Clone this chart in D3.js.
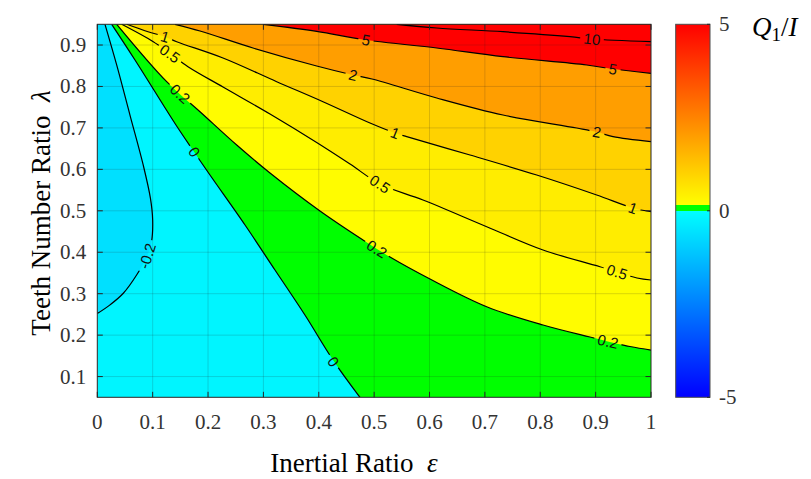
<!DOCTYPE html>
<html><head><meta charset="utf-8">
<script src="https://cdn.jsdelivr.net/npm/d3@7/dist/d3.min.js"></script>
<style>body{margin:0;background:#fff}svg{display:block}</style>
</head><body>
<svg id="chart" width="811" height="479"></svg>
<script>
// ---------- data ----------
const xTicks = [0,0.1,0.2,0.3,0.4,0.5,0.6,0.7,0.8,0.9,1];
const xTickLabels = ["0","0.1","0.2","0.3","0.4","0.5","0.6","0.7","0.8","0.9","1"];
const yTicks = [0.1,0.2,0.3,0.4,0.5,0.6,0.7,0.8,0.9];
const yTickLabels = ["0.1","0.2","0.3","0.4","0.5","0.6","0.7","0.8","0.9"];
const cbTicks = [-5,0,5];
const cbTickLabels = ["-5","0","5"];
const levels = [-0.2, 0, 0.2, 0.5, 1, 2, 5, 10];
const minValue = -0.6;
// colormap breakpoints (value -> colour)
const cmapValues = [-5, -1e-9, 0, 0.15, 0.15 + 1e-9, 5];
const cmapColors = ["#0000ff", "#00ffff", "#00ff00", "#00ff00", "#ffff00", "#ff0000"];

// contour lines [epsilon, lambda]
const contourM02 = [[0.0139,0.95],[0.035,0.852],[0.059,0.731],[0.083,0.61],[0.096,0.53],[0.1,0.478],[0.098,0.426],[0.09,0.391],[0.071,0.345],[0.047,0.301],[0.023,0.273],[0,0.252]];
const contour0 = [[0.026,0.95],[0.0681,0.8639],[0.1421,0.707],[0.175,0.6418],[0.2035,0.5863],[0.2668,0.4657],[0.3209,0.3571],[0.375,0.2485],[0.4257,0.1399],[0.4744,0.05]];
const contour02 = [[0.035,0.95],[0.1253,0.8115],[0.1855,0.7391],[0.2518,0.6587],[0.3119,0.5912],[0.4022,0.4995],[0.4799,0.4295],[0.5286,0.3885],[0.6009,0.3354],[0.7033,0.2685],[0.805,0.2244],[0.8898,0.1954],[0.962,0.1725],[1,0.164]];
const contour05 = [[0.0441,0.95],[0.1011,0.908],[0.1313,0.8795],[0.1638,0.8477],[0.227,0.7987],[0.3119,0.7335],[0.3962,0.6648],[0.4564,0.6129],[0.5106,0.5646],[0.5882,0.526],[0.7033,0.4616],[0.805,0.4054],[0.9079,0.365],[0.9747,0.3378],[1,0.333]];
const contour1 = [[0.0531,0.95],[0.0916,0.9321],[0.1223,0.9201],[0.1434,0.908],[0.227,0.8687],[0.324,0.8115],[0.4076,0.7632],[0.4925,0.7118],[0.5377,0.6877],[0.5588,0.6788],[0.6731,0.6346],[0.7936,0.5863],[0.9019,0.5381],[0.9675,0.5067],[1,0.4978]];
const contour2 = [[0.1403,0.95],[0.1855,0.9338],[0.2812,0.8928],[0.3962,0.8494],[0.4618,0.8277],[0.4961,0.818],[0.613,0.7722],[0.7327,0.7311],[0.8658,0.6998],[0.9025,0.6901],[0.9314,0.6788],[1,0.6667]];
const contour5 = [[0.2993,0.95],[0.3962,0.9331],[0.4853,0.9121],[0.613,0.8928],[0.7327,0.8718],[0.8839,0.8518],[0.9314,0.8421],[1,0.8318]];
const contour10 = [[0.5407,0.95],[0.613,0.9411],[0.7327,0.9321],[0.8537,0.9201],[0.8934,0.9145],[1,0.908]];

// inline contour labels [epsilon, lambda, level]
const contourLabels = [
  [0.09,0.391,-0.2],
  [0.175,0.6418,0],[0.4262,0.1358,0],
  [0.1494,0.7825,0.2],[0.505,0.408,0.2],[0.9223,0.185,0.2],
  [0.1313,0.8795,0.5],[0.5106,0.5646,0.5],[0.9386,0.3525,0.5],
  [0.1223,0.9201,1],[0.5377,0.6877,1],[0.9675,0.5067,1],
  [0.4618,0.8277,2],[0.9025,0.6901,2],
  [0.4853,0.9121,5],[0.9314,0.8421,5],
  [0.8934,0.9145,10]
];

// ---------- layout ----------
const svg = d3.select("#chart");
const L = 97.3, R = 651, T = 24.3, B = 397.3;
const x = d3.scaleLinear().domain([0,1]).range([L,R]);
const y = d3.scaleLinear().domain([0.05,0.95]).range([B,T]);
const color = d3.scaleLinear().domain(cmapValues).range(cmapColors).clamp(true);
const serif = "'Liberation Serif','Times New Roman',serif";
const sans = "'Liberation Sans',Arial,Helvetica,sans-serif";
const axisCol = "#262626";

const contours = [contourM02, contour0, contour02, contour05, contour1, contour2, contour5, contour10];
const curve = d3.curveCatmullRom.alpha(0.5);
const lineGen = d3.line().x(d=>x(d[0])).y(d=>y(d[1])).curve(curve);
const [x0,x1] = x.domain(), [y0,y1] = y.domain();

const defs = svg.append("defs");
defs.append("clipPath").attr("id","plotclip").append("rect")
  .attr("x",L).attr("y",T).attr("width",R-L).attr("height",B-T);

// ---------- filled regions ----------
const fills = svg.append("g").attr("clip-path","url(#plotclip)");
fills.append("rect").attr("x",L).attr("y",T).attr("width",R-L).attr("height",B-T)
  .attr("fill", color(levels[0]));
function region(pts, corners){
  return lineGen(pts) + corners.map(c=>"L"+x(c[0])+","+y(c[1])).join("") + "Z";
}
fills.append("path").attr("d", region(contourM02, [[x0,y1]])).attr("fill", color(minValue));
contours.forEach((pts,i)=>{
  if(i===0) return;
  const last = pts[pts.length-1];
  const corners = (Math.abs(last[1]-y0)<1e-6) ? [[x1,y0],[x1,y1]] : [[x1,y1]];
  fills.append("path").attr("d", region(pts, corners)).attr("fill", color(levels[i]));
});

// ---------- grid ----------
const grid = svg.append("g").attr("clip-path","url(#plotclip)");
grid.selectAll("line.gx").data(xTicks.slice(1,-1)).join("line")
  .attr("x1",d=>x(d)).attr("x2",d=>x(d)).attr("y1",T).attr("y2",B)
  .attr("stroke","#262626").attr("stroke-opacity",0.17).attr("stroke-width",1);
grid.selectAll("line.gy").data(yTicks).join("line")
  .attr("y1",d=>y(d)).attr("y2",d=>y(d)).attr("x1",L).attr("x2",R)
  .attr("stroke","#262626").attr("stroke-opacity",0.17).attr("stroke-width",1);

// ---------- contour labels + mask ----------
function angleAt(pts, lx, ly){
  const P = pts.map(d=>[x(d[0]), y(d[1])]);
  const px=x(lx), py=y(ly);
  let best=Infinity, ang=0;
  for(let i=0;i<P.length-1;i++){
    const [ax,ay]=P[i],[bx,by]=P[i+1];
    const dx=bx-ax, dy=by-ay;
    let t=((px-ax)*dx+(py-ay)*dy)/(dx*dx+dy*dy); t=Math.max(0,Math.min(1,t));
    const dd=Math.hypot(ax+t*dx-px, ay+t*dy-py);
    if(dd<best){best=dd; ang=Math.atan2(dy,dx)*180/Math.PI;}
  }
  if(ang>90) ang-=180; if(ang<-90) ang+=180;
  return ang;
}
const mask = defs.append("mask").attr("id","lblmask").attr("maskUnits","userSpaceOnUse")
  .attr("x",0).attr("y",0).attr("width",811).attr("height",479);
mask.append("rect").attr("x",0).attr("y",0).attr("width",811).attr("height",479).attr("fill","#fff");

const lines = svg.append("g").attr("clip-path","url(#plotclip)");
const lineInner = lines.append("g").attr("mask","url(#lblmask)");
contours.forEach(pts=>{
  lineInner.append("path").attr("d", lineGen(pts)).attr("fill","none")
    .attr("stroke","#000").attr("stroke-width",1.2);
});
const lbl = svg.append("g");
contourLabels.forEach(([le,ll,lv])=>{
  const pts = contours[levels.indexOf(lv)];
  const a = angleAt(pts, le, ll);
  const px = x(le), py = y(ll);
  const t = lbl.append("text").attr("transform",`translate(${px},${py}) rotate(${a})`)
    .attr("text-anchor","middle").attr("dy","0.36em")
    .attr("font-family",sans).attr("font-size",15).attr("fill","#111")
    .text(String(lv));
  const w = t.node().getComputedTextLength() + 7;
  mask.append("rect").attr("x",-w/2).attr("y",-8).attr("width",w).attr("height",16)
    .attr("fill","#000").attr("transform",`translate(${px},${py}) rotate(${a})`);
});

// ---------- axes ----------
const ax = svg.append("g");
ax.selectAll("line.tb").data(xTicks).join("line")
  .attr("x1",d=>x(d)).attr("x2",d=>x(d)).attr("y1",B).attr("y2",B-5.5).attr("stroke",axisCol);
ax.selectAll("line.tt").data(xTicks).join("line")
  .attr("x1",d=>x(d)).attr("x2",d=>x(d)).attr("y1",T).attr("y2",T+5.5).attr("stroke",axisCol);
ax.selectAll("line.tl").data(yTicks).join("line")
  .attr("y1",d=>y(d)).attr("y2",d=>y(d)).attr("x1",L).attr("x2",L+5.5).attr("stroke",axisCol);
ax.selectAll("line.tr").data(yTicks).join("line")
  .attr("y1",d=>y(d)).attr("y2",d=>y(d)).attr("x1",R).attr("x2",R-5.5).attr("stroke",axisCol);
ax.append("rect").attr("x",L).attr("y",T).attr("width",R-L).attr("height",B-T)
  .attr("fill","none").attr("stroke",axisCol).attr("stroke-width",1);

ax.selectAll("text.xt").data(xTicks).join("text")
  .attr("x",d=>x(d)).attr("y",B+32).attr("text-anchor","middle")
  .attr("font-family",serif).attr("font-size",21).attr("fill","#333")
  .text((d,i)=>xTickLabels[i]);
ax.selectAll("text.yt").data(yTicks).join("text")
  .attr("x",L-11).attr("y",d=>y(d)+7).attr("text-anchor","end")
  .attr("font-family",serif).attr("font-size",21).attr("fill","#333")
  .text((d,i)=>yTickLabels[i]);

// axis titles
const xt = svg.append("text").attr("x",354).attr("y",472).attr("text-anchor","middle")
  .attr("font-family",serif).attr("font-size",27).attr("fill","#000");
xt.append("tspan").text("Inertial Ratio\u00a0\u00a0");
xt.append("tspan").attr("font-style","italic").text("\u03b5");
const yt = svg.append("text").attr("transform","translate(50,213) rotate(-90)").attr("text-anchor","middle")
  .attr("font-family",serif).attr("font-size",27).attr("fill","#000");
yt.append("tspan").text("Teeth Number Ratio\u00a0\u00a0");
yt.append("tspan").attr("font-style","italic").text("\u03bb");

// ---------- colorbar ----------
const cbL = 675.7, cbR = 710;
const cy = d3.scaleLinear().domain([-5,5]).range([B,T]);
const grad = defs.append("linearGradient").attr("id","cbgrad").attr("gradientUnits","userSpaceOnUse")
  .attr("x1",0).attr("x2",0).attr("y1",cy(-5)).attr("y2",cy(5));
cmapValues.forEach((v,i)=>{
  grad.append("stop").attr("offset",(v+5)/10).attr("stop-color",cmapColors[i]);
});
svg.append("rect").attr("x",cbL).attr("y",cy(5)).attr("width",cbR-cbL).attr("height",cy(-5)-cy(5))
  .attr("fill","url(#cbgrad)").attr("stroke","#4d4d4d").attr("stroke-width",1);
svg.selectAll("line.cbt").data(cbTicks).join("line")
  .attr("x1",cbR).attr("x2",cbR-3).attr("y1",d=>cy(d)).attr("y2",d=>cy(d)).attr("stroke",axisCol);
svg.selectAll("text.cbl").data(cbTicks).join("text")
  .attr("x",719).attr("y",d=>cy(d)+7).attr("font-family",serif).attr("font-size",21).attr("fill","#333")
  .text((d,i)=>cbTickLabels[i]);
const qt = svg.append("text").attr("x",752).attr("y",36).attr("font-family",serif).attr("font-size",27).attr("fill","#000");
qt.append("tspan").attr("font-style","italic").text("Q");
qt.append("tspan").attr("font-size",19).attr("dy",5).text("1");
qt.append("tspan").attr("dy",-5).text("/");
qt.append("tspan").attr("font-style","italic").text("I");
</script>
</body></html>
